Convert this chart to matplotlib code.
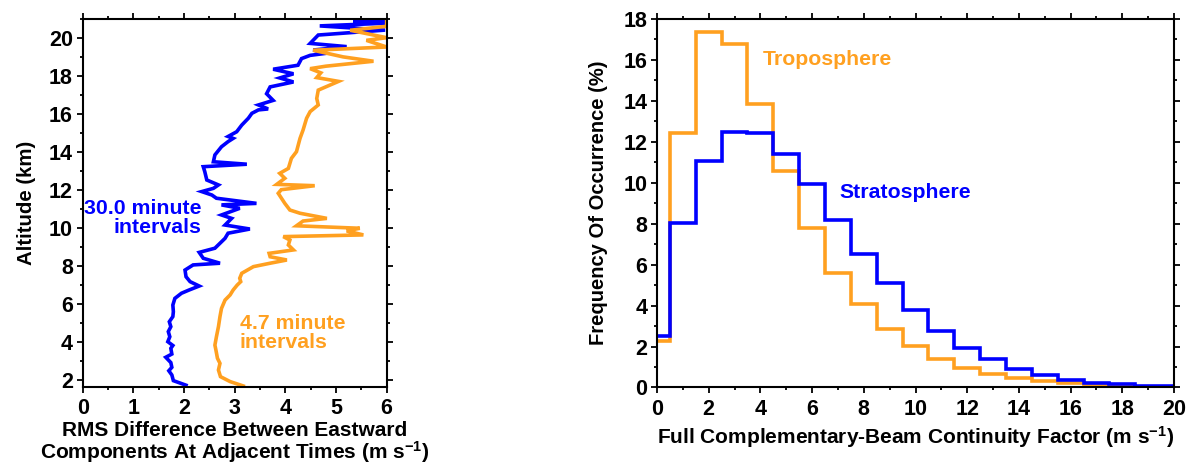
import numpy as np
import matplotlib.pyplot as plt
from matplotlib.ticker import MultipleLocator

plt.rcParams['font.family'] = ['Liberation Sans', 'DejaVu Sans']
plt.rcParams['font.weight'] = 'bold'
plt.rcParams['mathtext.fontset'] = 'custom'
plt.rcParams['mathtext.rm'] = 'Liberation Sans:bold'
plt.rcParams['mathtext.bf'] = 'Liberation Sans:bold'
plt.rcParams['mathtext.default'] = 'bf'

blue = '#0000FF'
orange = '#FFA020'

# Left panel: RMS difference profiles (altitude km, value m/s)
alt_30 = [1.71, 1.95, 2.25, 2.47, 2.65, 2.90, 3.18, 3.35, 3.65, 3.80, 4.00, 4.26,
          4.53, 4.79, 5.05, 5.32, 5.58, 5.93, 6.28, 6.55, 6.72, 6.93, 7.16, 7.42,
          7.77, 8.04, 8.13, 8.39, 8.70, 8.92, 9.18, 9.44, 9.71, 9.93, 10.14, 10.49,
          10.67, 11.02, 11.20, 11.28, 11.55, 11.72, 11.90, 12.07, 12.25, 12.51, 12.95,
          13.21, 13.34, 13.47, 13.83, 14.26, 14.53, 14.70, 14.80, 15.05, 15.40, 15.76,
          16.02, 16.20, 16.25, 16.46, 16.70, 17.05, 17.41, 17.67, 17.88, 18.10, 18.34,
          18.55, 18.90, 19.07, 19.18, 19.35, 19.53, 19.70, 20.14, 20.40, 20.62, 20.76,
          20.88, 20.95]
rms_30 = [2.04, 1.79, 1.76, 1.70, 1.76, 1.74, 1.64, 1.76, 1.74, 1.78, 1.68, 1.72,
          1.69, 1.74, 1.71, 1.78, 1.79, 1.78, 1.82, 1.95, 2.10, 2.30, 2.12, 2.04,
          2.02, 2.18, 2.71, 2.38, 2.30, 2.61, 2.71, 2.81, 2.87, 3.30, 2.81, 2.94,
          2.74, 3.10, 2.74, 3.43, 2.64, 2.55, 2.35, 2.58, 2.68, 2.45, 2.41,
          2.38, 3.24, 2.58, 2.61, 2.74, 2.87, 2.97, 2.87, 3.04, 3.14, 3.27,
          3.34, 3.47, 3.66, 3.47, 3.76, 3.63, 3.70, 4.16, 3.89, 4.16, 3.76,
          4.25, 4.32, 4.49, 4.81, 4.55, 5.21, 4.49, 4.65, 5.97, 4.68, 5.97,
          5.34, 5.97]

alt_47 = [1.67, 1.90, 2.16, 2.51, 2.86, 3.13, 3.56, 3.82, 4.26, 4.79, 5.32, 5.75,
          6.19, 6.46, 6.72, 6.98, 7.16, 7.34, 7.60, 7.95, 8.13, 8.30, 8.47, 8.65,
          8.83, 9.09, 9.35, 9.53, 9.62, 9.83, 9.97, 10.10, 10.35, 10.49, 10.76, 10.93,
          11.28, 11.81, 12.00, 12.21, 12.28, 12.60, 12.86, 13.12, 13.65, 14.00, 14.70,
          15.14, 15.76, 16.11, 16.46, 16.80, 17.24, 17.70, 17.90, 18.15, 18.37, 18.50,
          18.76, 18.99, 19.34, 19.51, 19.86, 20.00, 20.39, 20.60, 20.90]
rms_47 = [3.17, 2.91, 2.72, 2.68, 2.71, 2.66, 2.63, 2.61, 2.64, 2.68, 2.71, 2.74,
          2.81, 2.91, 2.97, 3.05, 3.12, 3.10, 3.14, 3.37, 3.70, 4.03, 3.70, 3.68,
          4.16, 4.06, 4.09, 3.96, 5.54, 5.21, 5.47, 4.22, 4.35, 4.82, 4.29, 4.09,
          3.99, 3.86, 3.92, 4.58, 3.83, 3.99, 3.89, 4.06, 4.12, 4.22, 4.29,
          4.35, 4.42, 4.49, 4.65, 4.62, 4.65, 5.05, 4.62, 4.70, 4.49, 4.80,
          5.74, 5.14, 4.55, 6.00, 5.60, 6.00, 5.28, 6.00, 6.00]

# Right panel: histograms, bin edges 0, 0.5, 1.5, ..., 19.5, 20
bin_edges = [0] + [i + 0.5 for i in range(20)] + [20]
freq_tropo = [2.25, 12.45, 17.38, 16.78, 13.84, 10.55, 7.78, 5.59, 4.07, 2.86, 2.01,
              1.39, 0.96, 0.65, 0.44, 0.31, 0.20, 0.11, 0.06, 0.03, 0.02]
freq_strato = [2.49, 8.03, 11.07, 12.47, 12.42, 11.40, 9.95, 8.19, 6.51, 5.10, 3.79,
               2.76, 1.94, 1.37, 0.88, 0.59, 0.36, 0.24, 0.15, 0.07, 0.05]


def style_axes(ax):
    for s in ax.spines.values():
        s.set_linewidth(1.5)
    ax.tick_params(which='both', direction='out', top=True, right=True,
                   width=1.3, labelsize=15.5)
    ax.tick_params(axis='x', pad=4)
    ax.tick_params(axis='y', pad=3)
    ax.tick_params(which='major', length=4)
    ax.tick_params(which='minor', length=2.5)
    for lab in ax.get_xticklabels() + ax.get_yticklabels():
        lab.set_fontweight('bold')


fig = plt.figure(figsize=(11.93, 4.66), dpi=100)

ax1 = fig.add_axes([0.0693, 0.1689, 0.2548, 0.791])
ax1.plot(rms_30, alt_30, color=blue, lw=2.6, solid_joinstyle='miter')
ax1.plot(rms_47, alt_47, color=orange, lw=2.6, solid_joinstyle='miter')
ax1.set_xlim(0, 6)
ax1.set_ylim(1.6, 21.0)
ax1.xaxis.set_major_locator(MultipleLocator(1))
ax1.xaxis.set_minor_locator(MultipleLocator(0.5))
ax1.yaxis.set_major_locator(MultipleLocator(2))
ax1.yaxis.set_minor_locator(MultipleLocator(1))
ax1.set_xlabel('RMS Difference Between Eastward\nComponents At Adjacent Times (m s$^{-1}$)',
               fontsize=15, fontweight='bold', labelpad=1, linespacing=0.97)
ax1.set_ylabel('Altitude (km)', fontsize=14.7, fontweight='bold', labelpad=9)
ax1.text(2.35, 10.5, '30.0 minute\nintervals', color=blue, fontsize=15.3,
         fontweight='bold', ha='right', va='center', multialignment='right',
         linespacing=1.0)
ax1.text(3.1, 4.45, '4.7 minute\nintervals', color=orange, fontsize=15.3,
         fontweight='bold', ha='left', va='center', linespacing=1.0)
style_axes(ax1)

ax2 = fig.add_axes([0.5507, 0.1685, 0.4334, 0.791])
ax2.stairs(freq_tropo, bin_edges, baseline=None, color=orange, lw=2.6)
ax2.stairs(freq_strato, bin_edges, baseline=None, color=blue, lw=2.6)
ax2.set_xlim(0, 20)
ax2.set_ylim(0, 18)
ax2.xaxis.set_major_locator(MultipleLocator(2))
ax2.xaxis.set_minor_locator(MultipleLocator(1))
ax2.yaxis.set_major_locator(MultipleLocator(2))
ax2.yaxis.set_minor_locator(MultipleLocator(1))
ax2.set_xlabel('Full Complementary-Beam Continuity Factor (m s$^{-1}$)',
               fontsize=15, fontweight='bold', labelpad=3)
ax2.set_ylabel('Frequency Of Occurrence (%)', fontsize=14.5, fontweight='bold', labelpad=11)
ax2.text(4.1, 16.0, 'Troposphere', color=orange, fontsize=15.3, fontweight='bold',
         ha='left', va='center')
ax2.text(7.06, 9.5, 'Stratosphere', color=blue, fontsize=15.3, fontweight='bold',
         ha='left', va='center')
style_axes(ax2)

fig.savefig('out.png', dpi=100)
